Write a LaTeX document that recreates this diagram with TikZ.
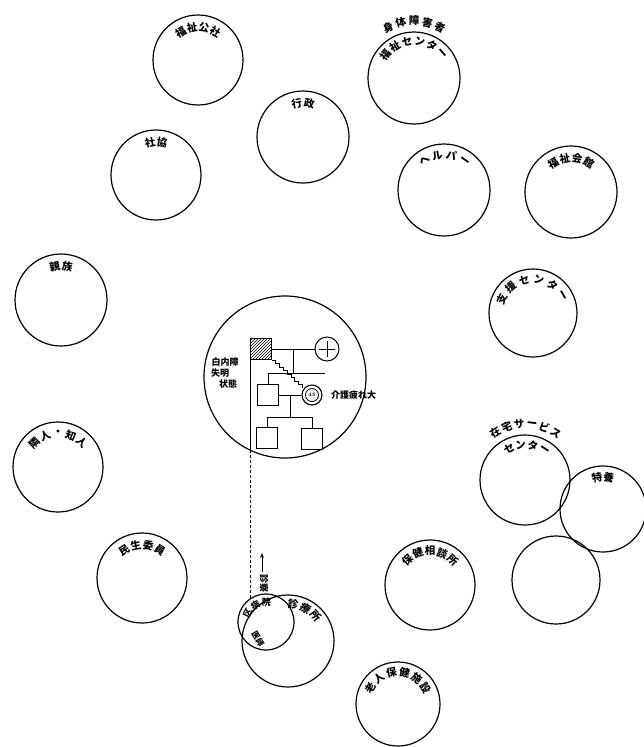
\documentclass[tikz,border=0pt]{standalone}
\usepackage{fontspec}
\newfontfamily\jp{Noto Sans CJK JP}
\usetikzlibrary{calc,patterns,arrows.meta}
\newcommand\arclabel[5]{%
  \foreach \lch [count=\idx from 0] in {#5}{%
    \pgfmathsetmacro\ang{#3+\idx*(#4)}%
    \node[lbl, rotate=\ang-90] at ($(#1)+(\ang:#2)$) {\lch};
  }}
\newcommand\arclabelsmall[5]{%
  \foreach \lch [count=\idx from 0] in {#5}{%
    \pgfmathsetmacro\ang{#3+\idx*(#4)}%
    \node[small, rotate=\ang-90] at ($(#1)+(\ang:#2)$) {\lch};
  }}
\tikzset{
  org/.style={circle, draw, line width=1.2pt, inner sep=0pt},
  lbl/.style={font=\jp\bfseries\fontsize{10.5}{10.5}\selectfont, inner sep=0pt},
  small/.style={font=\jp\bfseries\fontsize{9}{9}\selectfont, inner sep=0pt},
  tiny/.style={font=\jp\bfseries\fontsize{8}{8}\selectfont, inner sep=0pt},
  sqr/.style={draw, line width=1pt, minimum size=21pt, inner sep=0pt},
  fam/.style={line width=0.9pt},
}
\begin{document}
\begin{tikzpicture}[x=1pt,y=1pt]
\useasboundingbox (0,0) rectangle (644,-747);
% surrounding circles
\node[org, minimum size=90pt] (fkosha) at (198,-60) {};
\node[org, minimum size=92pt] (shintai) at (414,-78) {};
\node[org, minimum size=92pt] (gyosei) at (303,-137) {};
\node[org, minimum size=90pt] (shakyo) at (156,-175) {};
\node[org, minimum size=92pt] (helper) at (444,-190) {};
\node[org, minimum size=92pt] (kaikan) at (571,-192) {};
\node[org, minimum size=92pt] (shinzoku) at (61,-300) {};
\node[org, minimum size=88pt] (shien) at (533,-313) {};
\node[org, minimum size=162pt] (home) at (285,-377) {};
\node[org, minimum size=90pt] (rinjin) at (58,-467) {};
\node[org, minimum size=90pt] (zaitaku) at (525,-480) {};
\node[org, minimum size=86pt] (tokuyo) at (603,-509) {};
\node[org, minimum size=90pt] (minsei) at (142,-578) {};
\node[org, minimum size=88pt] (blank) at (556,-580) {};
\node[org, minimum size=90pt] (hoken) at (430,-585) {};
\node[org, minimum size=92pt] (hosp) at (288,-641) {};
\node[org, minimum size=56pt] (kubyoin) at (266,-622) {};
\node[org, minimum size=84pt] (roken) at (398,-704) {};
% arc labels
\arclabel{fkosha}{33}{121.5}{-21}{福,祉,公,社}
\arclabel{shintai}{57}{117}{-13.5}{身,体,障,害,者}
\arclabel{shintai}{37}{141}{-20}{福,祉,セ,ン,タ,ー}
\arclabel{gyosei}{34}{100.5}{-21}{行,政}
\arclabel{shakyo}{33}{100.5}{-21}{社,協}
\arclabel{helper}{35}{124}{-23}{ヘ,ル,パ,ー}
\arclabel{kaikan}{34}{121.5}{-21}{福,祉,会,館}
\arclabel{shinzoku}{34}{100.5}{-21}{親,族}
\arclabel{shien}{34}{155}{-25}{支,援,セ,ン,タ,ー}
\arclabel{rinjin}{34}{134}{-22}{隣,人,・,知,人}
\arclabel{zaitaku}{56}{122}{-13}{在,宅,サ,ー,ビ,ス}
\arclabel{zaitaku}{35}{117}{-20}{セ,ン,タ,ー}
\arclabel{tokuyo}{32}{100.5}{-21}{特,養}
\arclabel{minsei}{33}{123}{-22}{民,生,委,員}
\arclabel{hoken}{34}{132}{-21}{保,健,相,談,所}
\arclabelsmall{kubyoin}{20}{155}{-33}{区,病,院}
\arclabel{hosp}{37}{82}{-20}{診,療,所}
\arclabel{roken}{32}{150}{-24}{老,人,保,健,施,設}
\node[tiny, rotate=-60] (ishi) at (258,-639) {医師};
% family inside the home circle
\node[sqr, pattern=north east lines] (P) at (261,-349) {};
\node[circle, draw, line width=1pt, minimum size=24pt, inner sep=0pt] (W) at (327,-349) {};
\draw[fam] ($(W.center)+(0,8)$) -- ($(W.center)+(0,-8)$);
\draw[fam] ($(W.center)+(-8,0)$) -- ($(W.center)+(8,0)$);
\node[sqr] (S) at (268,-395) {};
\node[circle, draw, line width=1.1pt, minimum size=20pt, inner sep=0pt] (D) at (312,-395) {};
\node[circle, draw, line width=0.8pt, minimum size=13pt, inner sep=0pt, font=\fontsize{5}{5}\selectfont\bfseries] (Din) at (D.center) {45};
\node[sqr] (C1) at (267,-438) {};
\node[sqr] (C2) at (312,-439) {};
\draw[fam] (P.east) -- (W.west);
\coordinate (m1) at ($(P.east)!0.5!(W.west)$);
\coordinate (sibR) at (325,-373);
\draw[fam] (m1) -- (m1 |- sibR);
\draw[fam] (S.north) |- (sibR);
\draw[fam] (S.east) -- (D.west);
\coordinate (m2) at ($(S.east)!0.5!(D.west)$);
\coordinate (sib2) at (290,-417);
\draw[fam] (m2) -- (m2 |- sib2);
\draw[fam] (C1.north) -- (C1.north |- sib2) -- (C2.north |- sib2) -- (C2.north);
\draw[fam] (P.south east) \foreach \s in {1,...,8}{ -- ++(3.8,0) -- ++(0,-3.5)};
\node[small] (hakunai) at (225,-362) {白内障};
\node[small] (shitsumei) at (220,-373) {失明};
\node[small] (jotai) at (228,-384) {状態};
\node[small, anchor=west] (kaigo) at (331,-395) {介護疲れ大};
% line to hospital
\draw[line width=1pt] (P.south west) -- (P.south west |- home.244);
\draw[line width=1pt, densely dashed] (P.south west |- home.244) -- (P.south west |- kubyoin.125);
\coordinate (ar1) at (262,-572);
\coordinate (ar2) at (262,-553);
\draw[line width=0.9pt, -{Stealth[length=5pt]}] (ar1) -- (ar2);
\node[small, rotate=-90] (shinsatsu) at (264,-583) {診察};
\end{tikzpicture}
\end{document}
